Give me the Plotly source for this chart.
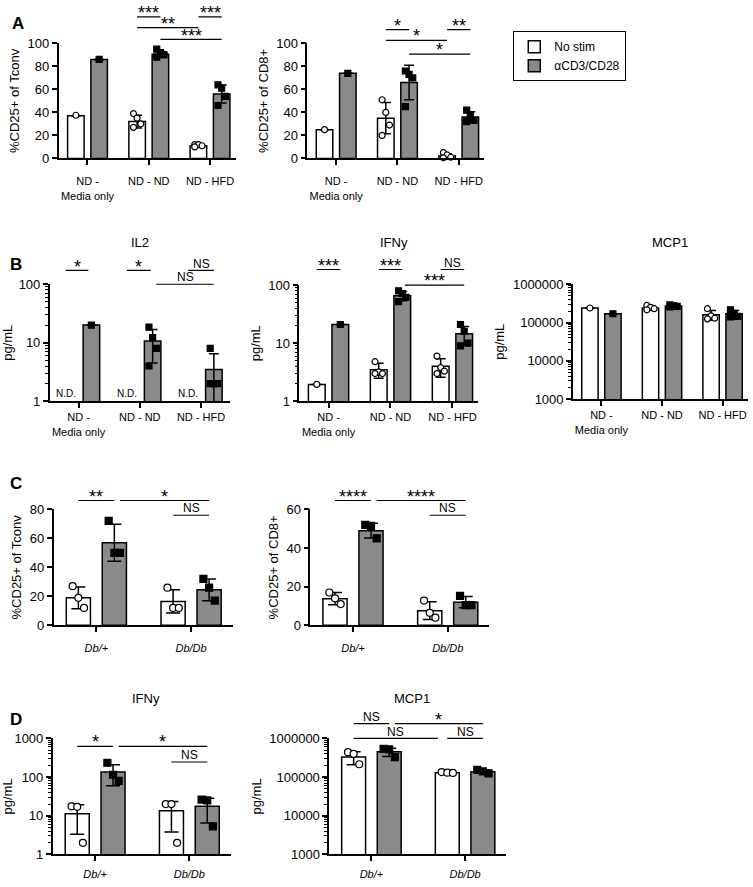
import numpy as np
import plotly.graph_objects as go

W, H = 753, 887
FONT = "Liberation Sans, Arial, Helvetica, sans-serif"
GREY = "#8a8a8a"

# ------------------------------------------------------------------ data
nd_groups = ["ND -<br>Media only", "ND - ND", "ND - HFD"]
db_groups = ["<i>Db/+</i>", "<i>Db/Db</i>"]
legend_names = ["No stim", "αCD3/CD28"]

lin_ticks_100 = [0, 20, 40, 60, 80, 100]
lin_ticks_80 = [0, 20, 40, 60, 80]
lin_ticks_60 = [0, 20, 40, 60]
log_ticks_small = [1, 10, 100]
log_ticks_1000 = [1, 10, 100, 1000]
log_ticks_big = [1000, 10000, 100000, 1000000]

# A  %CD25+ of Tconv
a_tconv_nostim_mean = [37, 32, 11]
a_tconv_nostim_sd = [0, 5.5, 1]
a_tconv_nostim_pts = [[37.5], [39, 35, 30, 27], [12, 12, 11, 10]]
a_tconv_stim_mean = [86, 90.5, 56]
a_tconv_stim_sd = [0, 2.5, 7.8]
a_tconv_stim_pts = [[86], [95, 92, 90, 88], [64, 61, 54, 46]]

# A  %CD25+ of CD8+
a_cd8_nostim_mean = [25, 35, 2]
a_cd8_nostim_sd = [0, 13.5, 2]
a_cd8_nostim_pts = [[25], [51, 40, 29, 20], [5, 3, 1, 0.5]]
a_cd8_stim_mean = [74, 66, 36]
a_cd8_stim_sd = [0, 15, 4.5]
a_cd8_stim_pts = [[74], [76, 73, 70, 45], [42, 38, 33, 32]]

# B  IL2 (pg/mL), No stim not detected
b_il2_nostim_mean = [None, None, None]
b_il2_nostim_sd = [0, 0, 0]
b_il2_nostim_pts = [None, None, None]
b_il2_stim_mean = [20, 10.7, 3.5]
b_il2_stim_sd = [0, 6.2, 3.0]
b_il2_stim_pts = [[20], [18.5, 12.2, 8, 4], [8, 2, 2, 2]]

# B  IFNy (pg/mL)
b_ifn_nostim_mean = [1.95, 3.5, 4.0]
b_ifn_nostim_sd = [0, 1.0, 1.4]
b_ifn_nostim_pts = [[1.95], [4.8, 3.2, 3.0, 3.0], [6, 3.8, 3.3, 3.0]]
b_ifn_stim_mean = [21, 66, 14.5]
b_ifn_stim_sd = [0, 12, 5]
b_ifn_stim_pts = [[21], [80, 72, 62, 52], [21, 16, 10, 9]]

# B  MCP1 (pg/mL)
b_mcp_nostim_mean = [240000, 240000, 160000]
b_mcp_nostim_sd = [0, 25000, 45000]
b_mcp_nostim_pts = [[240000], [280000, 250000, 230000, 215000], [230000, 150000, 130000, 125000]]
b_mcp_stim_mean = [170000, 270000, 170000]
b_mcp_stim_sd = [0, 15000, 35000]
b_mcp_stim_pts = [[170000], [290000, 275000, 265000, 255000], [215000, 175000, 145000, 140000]]

# C  %CD25+ of Tconv
c_tconv_nostim_mean = [19, 16.5]
c_tconv_nostim_sd = [7.5, 8]
c_tconv_nostim_pts = [[27, 19, 12], [26, 12, 12]]
c_tconv_stim_mean = [57, 24.5]
c_tconv_stim_sd = [12.8, 7.5]
c_tconv_stim_pts = [[72, 50, 50], [32, 26, 17]]

# C  %CD25+ of CD8+
c_cd8_nostim_mean = [13.8, 7.6]
c_cd8_nostim_sd = [3.2, 4.6]
c_cd8_nostim_pts = [[17, 14, 11], [12.8, 6.5, 4]]
c_cd8_stim_mean = [49, 12]
c_cd8_stim_sd = [3.8, 2.9]
c_cd8_stim_pts = [[52, 51.5, 45], [15.3, 10.5, 10.5]]

# D  IFNy (pg/mL)
d_ifn_nostim_mean = [11.3, 13.5]
d_ifn_nostim_sd = [8, 9.7]
d_ifn_nostim_pts = [[17.5, 17, 2], [20, 20, 2]]
d_ifn_stim_mean = [135, 17.5]
d_ifn_stim_sd = [75, 11]
d_ifn_stim_pts = [[235, 115, 80], [26, 25, 5.3]]

# D  MCP1 (pg/mL)
d_mcp_nostim_mean = [330000, 130000]
d_mcp_nostim_sd = [120000, 4000]
d_mcp_nostim_pts = [[440000, 400000, 215000], [135000, 130000, 128000]]
d_mcp_stim_mean = [450000, 138000]
d_mcp_stim_sd = [110000, 12000]
d_mcp_stim_pts = [[540000, 520000, 330000], [155000, 140000, 125000]]

# significance brackets: (panel, group0, series0, group1, series1, label)
brackets = [
    (1, 1, 0, 1, 1, "***"), (1, 1, 0, 2, 0, "**"), (1, 2, 0, 2, 1, "***"), (1, 1, 1, 2, 1, "***"),
    (2, 1, 0, 1, 1, "*"), (2, 1, 0, 2, 0, "*"), (2, 2, 0, 2, 1, "**"), (2, 1, 1, 2, 1, "*"),
    (3, 0, 0, 0, 1, "*"), (3, 1, 0, 1, 1, "*"), (3, 2, 0, 2, 1, "NS"), (3, 1, 1, 2, 1, "NS"),
    (4, 0, 0, 0, 1, "***"), (4, 1, 0, 1, 1, "***"), (4, 2, 0, 2, 1, "NS"), (4, 1, 1, 2, 1, "***"),
    (6, 0, 0, 0, 1, "**"), (6, 0, 1, 1, 1, "*"), (6, 1, 0, 1, 1, "NS"),
    (7, 0, 0, 0, 1, "****"), (7, 0, 1, 1, 1, "****"), (7, 1, 0, 1, 1, "NS"),
    (8, 0, 0, 0, 1, "*"), (8, 0, 1, 1, 1, "*"), (8, 1, 0, 1, 1, "NS"),
    (9, 0, 0, 0, 1, "NS"), (9, 0, 1, 1, 1, "*"), (9, 0, 0, 1, 0, "NS"), (9, 1, 0, 1, 1, "NS"),
]

# ------------------------------------------------------------------ layout (pixel geometry)
# bracket line heights (px from top) and end nudges, in the same order as `brackets`
bracket_geom = [
    (10, 0, 0), (21, 0, 0), (10, 0, 0), (33, 0, 0),
    (23, 0, 0), (34, 0, 0), (23, 0, 0), (48, 0, 0),
    (268, 0, -0.05), (268, 0, -0.03), (268, 0, 0), (282, 0.06, 0),
    (267, 0, 0), (267, 0, 0), (267, 0, 0), (283, 0.04, 0),
    (502, 0, 0), (502, 0.06, 0), (517, 0, 0),
    (502, 0, 0), (502, 0.06, 0), (517, 0, 0),
    (752, 0, 0), (752, 0.06, 0), (768, 0, 0),
    (729, 0, 0), (729, 0.06, 0), (744, 0, -0.1), (744, 0.0, 0),
]

GEOM3 = dict(xr=[-0.47, 2.42], off=0.19, bw=0.27, cap=5, ms=6, jit=0.06)
GEOM2 = dict(xr=[-0.45, 1.44], off=0.19, bw=0.255, cap=7, ms=7, jit=0.06)

panels = [
    dict(dx=(55, 233), dy=(37, 154), cats=nd_groups, log=False, yr=(0, 100), yt=lin_ticks_100,
         title="%CD25+ of Tconv", geom=GEOM3, xstand=7,
         s0=(a_tconv_nostim_mean, a_tconv_nostim_sd, a_tconv_nostim_pts),
         s1=(a_tconv_stim_mean, a_tconv_stim_sd, a_tconv_stim_pts)),
    dict(dx=(305, 483), dy=(37, 154), cats=nd_groups, log=False, yr=(0, 100), yt=lin_ticks_100,
         title="%CD25+ of CD8+", geom=GEOM3, xstand=7,
         s0=(a_cd8_nostim_mean, a_cd8_nostim_sd, a_cd8_nostim_pts),
         s1=(a_cd8_stim_mean, a_cd8_stim_sd, a_cd8_stim_pts)),
    dict(dx=(46, 227), dy=(282, 401), cats=nd_groups, log=True, yr=(1, 100), yt=log_ticks_small,
         title="pg/mL", geom=dict(GEOM3, xr=[-0.47, 2.47], off=0.21), xstand=0,
         s0=(b_il2_nostim_mean, b_il2_nostim_sd, b_il2_nostim_pts),
         s1=(b_il2_stim_mean, b_il2_stim_sd, b_il2_stim_pts)),
    dict(dx=(297, 477), dy=(283, 401), cats=nd_groups, log=True, yr=(1, 100), yt=log_ticks_small,
         title="pg/mL", geom=GEOM3, xstand=0,
         s0=(b_ifn_nostim_mean, b_ifn_nostim_sd, b_ifn_nostim_pts),
         s1=(b_ifn_stim_mean, b_ifn_stim_sd, b_ifn_stim_pts)),
    dict(dx=(572, 748), dy=(282, 399), cats=nd_groups, log=True, yr=(1000, 1000000), yt=log_ticks_big,
         title="pg/mL", geom=GEOM3, xstand=0,
         s0=(b_mcp_nostim_mean, b_mcp_nostim_sd, b_mcp_nostim_pts),
         s1=(b_mcp_stim_mean, b_mcp_stim_sd, b_mcp_stim_pts)),
    dict(dx=(50, 230), dy=(511, 629), cats=db_groups, log=False, yr=(0, 80), yt=lin_ticks_80,
         title="%CD25+ of Tconv", geom=GEOM2, xstand=7,
         s0=(c_tconv_nostim_mean, c_tconv_nostim_sd, c_tconv_nostim_pts),
         s1=(c_tconv_stim_mean, c_tconv_stim_sd, c_tconv_stim_pts)),
    dict(dx=(308, 488), dy=(511, 629), cats=db_groups, log=False, yr=(0, 60), yt=lin_ticks_60,
         title="%CD25+ of CD8+", geom=GEOM2, xstand=7,
         s0=(c_cd8_nostim_mean, c_cd8_nostim_sd, c_cd8_nostim_pts),
         s1=(c_cd8_stim_mean, c_cd8_stim_sd, c_cd8_stim_pts)),
    dict(dx=(49, 228), dy=(744, 862), cats=db_groups, log=True, yr=(1, 1000), yt=log_ticks_1000,
         title="pg/mL", geom=GEOM2, xstand=4,
         s0=(d_ifn_nostim_mean, d_ifn_nostim_sd, d_ifn_nostim_pts),
         s1=(d_ifn_stim_mean, d_ifn_stim_sd, d_ifn_stim_pts)),
    dict(dx=(327, 505), dy=(744, 862), cats=db_groups, log=True, yr=(1000, 1000000), yt=log_ticks_big,
         title="pg/mL", geom=GEOM2, xstand=4,
         s0=(d_mcp_nostim_mean, d_mcp_nostim_sd, d_mcp_nostim_pts),
         s1=(d_mcp_stim_mean, d_mcp_stim_sd, d_mcp_stim_pts)),
]


def px_x(p):
    return p / W


def px_y(p):
    return 1 - p / H


fig = go.Figure()
layout_axes = {}
LW = 1.6

for i, p in enumerate(panels, start=1):
    xa = "x" if i == 1 else f"x{i}"
    ya = "y" if i == 1 else f"y{i}"
    ng = len(p["cats"])
    g = p["geom"]
    for s, (means, sds, pts) in enumerate([p["s0"], p["s1"]]):
        sign = -1 if s == 0 else 1
        xs, ys, es = [], [], []
        for gi in range(ng):
            if means[gi] is None:
                continue
            xs.append(gi + sign * g["off"])
            ys.append(means[gi])
            es.append(sds[gi] if sds[gi] else float("nan"))
        if xs:
            fig.add_trace(go.Bar(
                x=xs, y=ys, width=g["bw"], xaxis=xa, yaxis=ya,
                name=legend_names[s], legendgroup=f"s{s}", showlegend=(i == 1),
                marker=dict(color="white" if s == 0 else GREY, line=dict(color="black", width=1.5)),
                error_y=dict(type="data", array=es, visible=True, color="black",
                             thickness=1.5, width=g["cap"]),
            ))
        # individual points
        pxs, pys = [], []
        for gi in range(ng):
            if pts[gi] is None:
                continue
            k = len(pts[gi])
            for j, v in enumerate(pts[gi]):
                jo = 0 if k == 1 else ((j % 3) - 1) * g["jit"]
                pxs.append(gi + sign * g["off"] + jo)
                pys.append(v)
        if pxs:
            fig.add_trace(go.Scatter(
                x=pxs, y=pys, mode="markers", xaxis=xa, yaxis=ya, showlegend=False,
                cliponaxis=False, hoverinfo="skip",
                marker=dict(symbol="circle" if s == 0 else "square", size=g["ms"],
                            color="white" if s == 0 else "black",
                            line=dict(color="black", width=1.2)),
            ))

    xdom = [px_x(p["dx"][0]), px_x(p["dx"][1])]
    ydom = [px_y(p["dy"][1]), px_y(p["dy"][0])]
    xkey = "xaxis" if i == 1 else f"xaxis{i}"
    ykey = "yaxis" if i == 1 else f"yaxis{i}"
    layout_axes[xkey] = dict(
        domain=xdom, anchor=ya, range=g["xr"], tickmode="array",
        tickvals=list(range(ng)), ticktext=p["cats"], ticks="outside", ticklen=5,
        tickwidth=LW, tickcolor="black", showline=True, linecolor="black", linewidth=LW,
        showgrid=False, zeroline=False, tickfont=dict(size=11, color="black"), fixedrange=True,
        ticklabelstandoff=p["xstand"],
    )
    yax = dict(
        domain=ydom, anchor=xa, tickmode="array", tickvals=p["yt"],
        ticktext=[str(v) for v in p["yt"]], ticks="outside", ticklen=5, tickwidth=LW,
        tickcolor="black", showline=True, linecolor="black", linewidth=LW, showgrid=False,
        zeroline=False, tickfont=dict(size=13, color="black"),
        title=dict(text=p["title"], font=dict(size=13, color="black"), standoff=5),
    )
    if p["log"]:
        lo, hi = p["yr"]
        minor_vals = []
        e = lo
        while e < hi:
            minor_vals += [m * e for m in range(2, 10)]
            e *= 10
        yax.update(type="log", range=[np.log10(lo), np.log10(hi)],
                   minor=dict(tickmode="array", tickvals=minor_vals, ticks="outside",
                              ticklen=3, tickwidth=1, tickcolor="black", showgrid=False))
    else:
        yax.update(range=list(p["yr"]))
    layout_axes[ykey] = yax

# ------------------------------------------------------------------ brackets
shapes, annotations = [], []
for (pn, g0, s0, g1, s1, label), (ypx, n0, n1) in zip(brackets, bracket_geom):
    g = panels[pn - 1]["geom"]
    xa = "x" if pn == 1 else f"x{pn}"
    x0 = g0 + (-1 if s0 == 0 else 1) * g["off"] + n0
    x1 = g1 + (-1 if s1 == 0 else 1) * g["off"] + n1
    shapes.append(dict(type="line", xref=xa, yref="paper", x0=x0, x1=x1,
                       y0=px_y(ypx), y1=px_y(ypx), line=dict(color="black", width=1.2)))
    is_star = label.startswith("*")
    annotations.append(dict(
        xref=xa, yref="paper", x=(x0 + x1) / 2, y=px_y(ypx - (4 if is_star else 7)),
        text=label, showarrow=False, xanchor="center", yanchor="middle",
        font=dict(size=18 if is_star else 12, color="black"),
    ))

# N.D. labels for IL2 no-stim
for gi, m in enumerate(b_il2_nostim_mean):
    if m is None:
        annotations.append(dict(xref="x3", yref="y3 domain", x=gi - panels[2]["geom"]["off"], y=0.0,
                                text="N.D.", showarrow=False, xanchor="center",
                                yanchor="bottom", font=dict(size=10, color="black")))

# panel titles
for txt, x, y in [("IL2", 137, 240), ("IFNy", 392, 240), ("MCP1", 670, 240),
                  ("IFNy", 143, 703), ("MCP1", 410, 703)]:
    annotations.append(dict(xref="paper", yref="paper", x=px_x(x), y=px_y(y), text=txt,
                            showarrow=False, xanchor="center", yanchor="middle",
                            font=dict(size=13, color="black")))
# panel letters
for txt, x, y in [("A", 14, 17), ("B", 12, 262), ("C", 12, 485), ("D", 12, 725)]:
    annotations.append(dict(xref="paper", yref="paper", x=px_x(x), y=px_y(y),
                            text=f"<b>{txt}</b>", showarrow=False, xanchor="center",
                            yanchor="middle", font=dict(size=17, color="black")))

fig.update_layout(
    width=W, height=H, margin=dict(l=0, r=0, t=0, b=0),
    paper_bgcolor="white", plot_bgcolor="white",
    font=dict(family=FONT, color="black"),
    barmode="overlay", shapes=shapes, annotations=annotations,
    legend=dict(x=px_x(512), y=px_y(50), xanchor="left", yanchor="middle",
                bordercolor="black", borderwidth=1, bgcolor="white",
                font=dict(size=12, color="black"), tracegroupgap=0, itemwidth=30),
    **layout_axes,
)

fig.write_html("out.html", config={"displayModeBar": False},
               post_script="document.body.style.margin='0';document.body.style.overflow='hidden';")
